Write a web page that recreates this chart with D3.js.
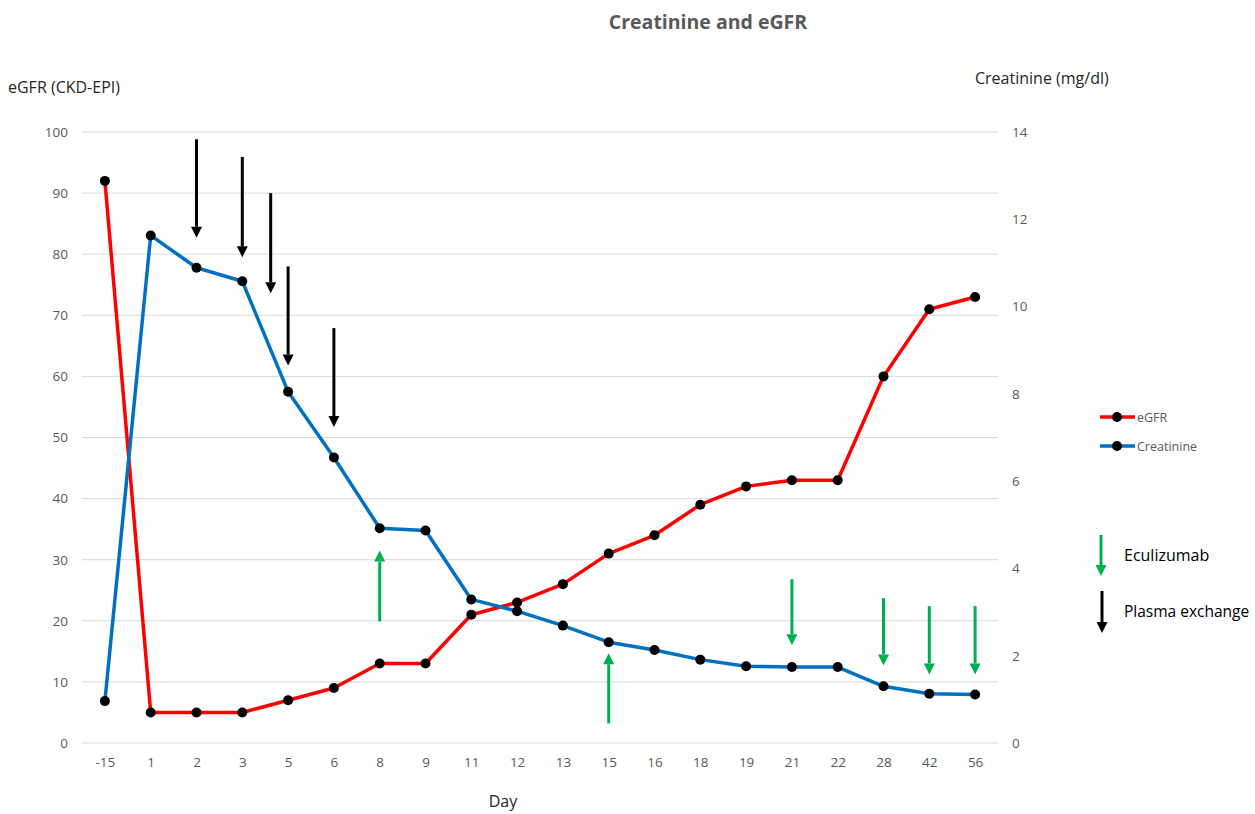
<!DOCTYPE html>
<html lang="en">
<head>
<meta charset="UTF-8">
<title>Creatinine and eGFR</title>
<script src="https://d3js.org/d3.v7.min.js"></script>
<style>
    body { margin: 0; background: #fff; }
    svg text { font-family: "Open Sans", "Noto Sans", sans-serif; }
    .tick text { fill: #595959; font-size: 13.5px; }
</style>
</head>
<body>
<div id="chart"></div>
<script>
    // chart data
    const days = ["-15", "1", "2", "3", "5", "6", "8", "9", "11", "12", "13", "15", "16", "18", "19", "21", "22", "28", "42", "56"];
    const egfr = [92, 5, 5, 5, 7, 9, 13, 13, 21, 23, 26, 31, 34, 39, 42, 43, 43, 60, 71, 73];
    const creatinine = [0.96, 11.63, 10.89, 10.58, 8.05, 6.54, 4.92, 4.87, 3.29, 3.02, 2.69, 2.31, 2.13, 1.91, 1.76, 1.74, 1.74, 1.30, 1.13, 1.11];
    const egfrTicks = [0, 10, 20, 30, 40, 50, 60, 70, 80, 90, 100];
    const creatTicks = [0, 2, 4, 6, 8, 10, 12, 14];

    // treatment arrows: day, offset in steps, start and tip (eGFR axis units)
    const plasmaExchange = [
        { day: "2", off: 0, from: 98.8, to: 82.7 },
        { day: "3", off: 0, from: 95.9, to: 79.5 },
        { day: "3", off: 0.62, from: 90, to: 73.6 },
        { day: "5", off: 0, from: 78, to: 61.8 },
        { day: "6", off: 0, from: 67.9, to: 51.7 }
    ];
    const eculizumab = [
        { day: "8", off: 0, from: 19.9, to: 31.5 },
        { day: "15", off: 0, from: 3.2, to: 14.7 },
        { day: "21", off: 0, from: 26.8, to: 16 },
        { day: "28", off: 0, from: 23.7, to: 12.7 },
        { day: "42", off: 0, from: 22.4, to: 11.2 },
        { day: "56", off: 0, from: 22.4, to: 11.2 }
    ];

    const W = 1255, H = 814;
    const plot = { left: 82, right: 998, top: 132, bottom: 743 };

    const svg = d3.select("#chart").append("svg")
        .attr("width", W).attr("height", H);

    const x = d3.scalePoint().domain(days).range([plot.left, plot.right]).padding(0.5);
    const yL = d3.scaleLinear().domain([0, 100]).range([plot.bottom, plot.top]);
    const yR = d3.scaleLinear().domain([0, 14]).range([plot.bottom, plot.top]);

    // gridlines
    svg.append("g")
        .selectAll("line")
        .data(egfrTicks)
        .join("line")
        .attr("x1", plot.left).attr("x2", plot.right)
        .attr("y1", d => yL(d)).attr("y2", d => yL(d))
        .attr("stroke", "#d9d9d9").attr("stroke-width", 1);

    // axes
    const gl = svg.append("g")
        .attr("transform", `translate(${plot.left - 4},0)`)
        .call(d3.axisLeft(yL).tickValues(egfrTicks).tickSize(0).tickPadding(10));
    const gr = svg.append("g")
        .attr("transform", `translate(${plot.right + 4},0)`)
        .call(d3.axisRight(yR).tickValues(creatTicks).tickSize(0).tickPadding(10));
    const gx = svg.append("g")
        .attr("transform", `translate(0,${plot.bottom + 4})`)
        .call(d3.axisBottom(x).tickSize(0).tickPadding(10));
    [gl, gr, gx].forEach(g => g.select(".domain").remove());

    // titles
    svg.append("text")
        .attr("x", 708).attr("y", 29)
        .attr("text-anchor", "middle")
        .attr("font-size", 19.5).attr("font-weight", "bold")
        .attr("fill", "#595959")
        .text("Creatinine and eGFR");
    svg.append("text")
        .attr("x", 8).attr("y", 93)
        .attr("font-size", 16).attr("fill", "#262626")
        .text("eGFR (CKD-EPI)");
    svg.append("text")
        .attr("x", 975).attr("y", 84)
        .attr("font-size", 16).attr("fill", "#262626")
        .text("Creatinine (mg/dl)");
    svg.append("text")
        .attr("x", 503).attr("y", 807)
        .attr("text-anchor", "middle")
        .attr("font-size", 16).attr("fill", "#262626")
        .text("Day");

    // lines
    const lineL = d3.line().x((d, i) => x(days[i])).y(d => yL(d));
    const lineR = d3.line().x((d, i) => x(days[i])).y(d => yR(d));

    svg.append("path").datum(egfr)
        .attr("d", lineL)
        .attr("fill", "none").attr("stroke", "#ff0000").attr("stroke-width", 3.5)
        .attr("stroke-linejoin", "round");
    svg.append("path").datum(creatinine)
        .attr("d", lineR)
        .attr("fill", "none").attr("stroke", "#0070c0").attr("stroke-width", 3.5)
        .attr("stroke-linejoin", "round");

    svg.append("g").selectAll("circle")
        .data(egfr).join("circle")
        .attr("cx", (d, i) => x(days[i])).attr("cy", d => yL(d))
        .attr("r", 5).attr("fill", "#000");
    svg.append("g").selectAll("circle")
        .data(creatinine).join("circle")
        .attr("cx", (d, i) => x(days[i])).attr("cy", d => yR(d))
        .attr("r", 5).attr("fill", "#000");

    // arrow helper (pixel coordinates)
    function arrow(g, x0, y0, y1, color) {
        const dir = y1 > y0 ? 1 : -1;
        const head = 11, hw = 5.5;
        g.append("line")
            .attr("x1", x0).attr("x2", x0)
            .attr("y1", y0).attr("y2", y1 - dir * head)
            .attr("stroke", color).attr("stroke-width", 3);
        g.append("path")
            .attr("d", `M${x0 - hw},${y1 - dir * head}L${x0 + hw},${y1 - dir * head}L${x0},${y1}Z`)
            .attr("fill", color);
    }

    const step = x.step();
    const ga = svg.append("g");
    plasmaExchange.forEach(a => arrow(ga, x(a.day) + a.off * step, yL(a.from), yL(a.to), "#000"));
    eculizumab.forEach(a => arrow(ga, x(a.day) + a.off * step, yL(a.from), yL(a.to), "#00b050"));

    // legend
    const lg = svg.append("g");
    const series = [
        { name: "eGFR", color: "#ff0000", y: 417 },
        { name: "Creatinine", color: "#0070c0", y: 446 }
    ];
    series.forEach(s => {
        lg.append("line")
            .attr("x1", 1100).attr("x2", 1135)
            .attr("y1", s.y).attr("y2", s.y)
            .attr("stroke", s.color).attr("stroke-width", 3.5);
        lg.append("circle").attr("cx", 1117).attr("cy", s.y).attr("r", 5).attr("fill", "#000");
        lg.append("text")
            .attr("x", 1137).attr("y", s.y + 4.5)
            .attr("font-size", 12.5).attr("fill", "#595959")
            .text(s.name);
    });
    arrow(lg, 1101, 535, 576, "#00b050");
    lg.append("text").attr("x", 1124).attr("y", 561)
        .attr("font-size", 16).attr("fill", "#000").text("Eculizumab");
    arrow(lg, 1102, 591, 633, "#000");
    lg.append("text").attr("x", 1124).attr("y", 617)
        .attr("font-size", 15.5).attr("fill", "#000").text("Plasma exchange");
</script>
</body>
</html>
